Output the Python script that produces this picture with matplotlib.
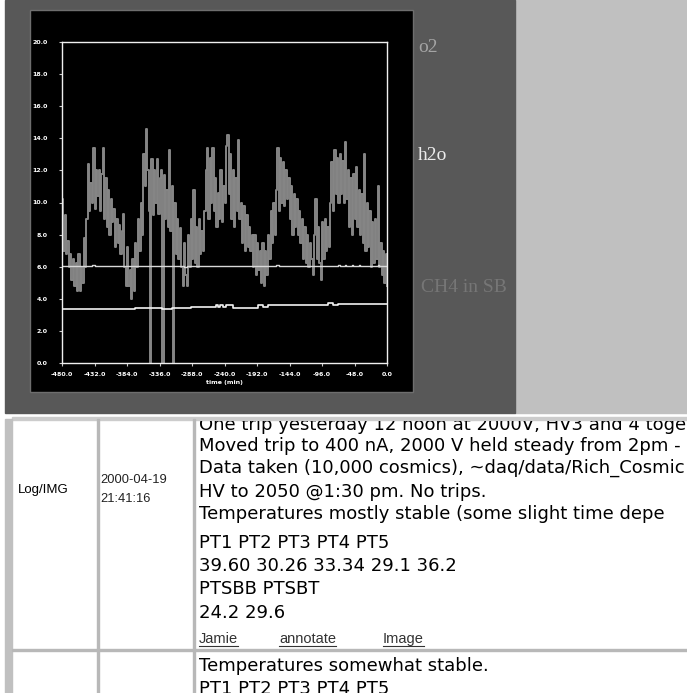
import matplotlib.pyplot as plt
from matplotlib.patches import Rectangle

# h2o reading, sampled every 2 min over the last 8 hours
time_min = list(range(-480, 1, 2))
h2o = [
    10.2, 7.0, 9.2, 6.8, 7.6, 6.0, 6.8, 5.2, 6.5, 4.8,      # -480
    6.2, 4.5, 6.8, 4.5, 6.0, 5.0, 7.8, 6.0, 9.0, 12.4,      # -460
    9.5, 11.2, 10.0, 13.4, 9.6, 12.0, 10.4, 12.0, 9.5, 11.8,  # -440
    13.4, 9.0, 11.5, 8.5, 10.8, 8.0, 10.2, 8.8, 9.6, 7.2,   # -420
    9.0, 7.5, 8.6, 6.8, 8.2, 9.3, 6.0, 4.8, 7.2, 4.8,       # -400
    5.8, 4.0, 6.5, 4.5, 7.5, 6.0, 9.0, 7.0, 10.0, 8.0,      # -380
    13.0, 11.0, 14.6, 12.0, 9.5, 0.0, 12.7, 9.2, 12.0, 10.0,  # -360
    12.7, 9.3, 11.5, 12.0, 0.0, 11.7, 9.0, 10.8, 8.5, 13.3,  # -340
    8.2, 11.0, 0.0, 10.0, 6.8, 9.0, 6.5, 8.4, 6.0, 4.8,     # -320
    7.5, 5.5, 4.8, 8.0, 6.0, 9.0, 6.5, 10.8, 6.2, 8.5,      # -300
    6.0, 9.0, 6.8, 8.2, 7.0, 9.5, 12.0, 13.4, 9.0, 12.8,    # -280
    10.0, 13.4, 9.5, 11.5, 8.5, 10.6, 9.0, 12.0, 8.8, 11.0,  # -260
    10.0, 13.5, 14.2, 10.5, 13.0, 9.0, 12.0, 8.5, 11.5, 9.5,  # -240
    13.9, 9.0, 10.0, 7.5, 9.8, 7.0, 9.2, 7.2, 8.5, 7.0,     # -220
    8.0, 6.0, 8.0, 5.5, 7.5, 5.8, 7.0, 5.0, 7.5, 4.8,       # -200
    7.0, 5.5, 8.0, 6.5, 9.5, 7.5, 10.0, 8.0, 10.8, 13.4,    # -180
    9.5, 12.8, 10.0, 12.5, 9.8, 12.0, 10.2, 11.5, 9.0, 11.0,  # -160
    8.0, 10.5, 8.5, 10.2, 8.0, 9.5, 7.5, 9.0, 6.5, 8.5,     # -140
    6.2, 8.0, 6.0, 7.5, 6.5, 5.5, 8.0, 10.2, 6.5, 8.5,      # -120
    6.2, 5.2, 8.8, 6.5, 9.0, 7.0, 8.5, 7.2, 10.0, 12.5,     # -100
    9.5, 13.3, 10.5, 12.8, 10.0, 13.0, 10.5, 12.6, 10.0, 13.8,  # -80
    10.2, 12.0, 8.5, 11.5, 8.0, 11.8, 9.0, 12.2, 8.5, 10.8,  # -60
    8.0, 10.5, 7.5, 13.0, 7.0, 10.0, 7.2, 9.5, 6.0, 8.8,    # -40
    6.2, 9.0, 6.5, 11.0, 6.0, 7.5, 5.5, 7.0, 5.0, 6.8,      # -20
    4.8,                                                    # 0
]

o2_time = [-480, -436, -432, -300, -296, -164, -160, -72, -70, -62, -60, -52, -50, -42, -40, -14, -12, 0]
o2 = [6.02, 6.1, 6.02, 5.98, 6.02, 6.12, 6.02, 6.1, 6.02, 6.1, 6.02, 6.1, 6.02, 6.1, 6.02, 6.12, 6.02, 6.02]

ch4_time = [-480, -372, -332, -318, -290, -253, -249, -246, -242, -238, -227, -190, -183, -176, -87, -80, -72, 0]
ch4 = [3.36, 3.44, 3.37, 3.45, 3.47, 3.6, 3.52, 3.62, 3.52, 3.6, 3.42, 3.64, 3.5, 3.63, 3.72, 3.64, 3.7, 3.7]

xticks = [-480, -432, -384, -336, -288, -240, -192, -144, -96, -48, 0]
yticks = [0, 2, 4, 6, 8, 10, 12, 14, 16, 18, 20]
series_names = ['o2', 'h2o', 'CH4 in SB']
series_label_colors = ['#a4a4a4', '#ececec', '#767676']

log_lines = [
    'One trip yesterday 12 noon at 2000V, HV3 and 4 toge',
    'Moved trip to 400 nA, 2000 V held steady from 2pm -',
    'Data taken (10,000 cosmics), ~daq/data/Rich_Cosmic',
    'HV to 2050 @1:30 pm. No trips.',
    'Temperatures mostly stable (some slight time depe',
]
temp_lines = ['PT1 PT2 PT3 PT4 PT5', '39.60 30.26 33.34 29.1 36.2', 'PTSBB PTSBT', '24.2 29.6']
links = ['Jamie', 'annotate', 'Image']
next_lines = ['Temperatures somewhat stable.', 'PT1 PT2 PT3 PT4 PT5']
entry_type = 'Log/IMG'
entry_date = ['2000-04-19', '21:41:16']

W, H = 687, 693
fig = plt.figure(figsize=(W / 100, H / 100), dpi=100, facecolor='white')

# page background, in pixel coordinates
bg = fig.add_axes([0, 0, 1, 1])
bg.set_xlim(0, W)
bg.set_ylim(H, 0)
bg.axis('off')
bg.add_patch(Rectangle((515, 0), W - 515, 413, color='#c0c0c0'))
bg.add_patch(Rectangle((5, 0), 510, 413, color='#585858'))
bg.add_patch(Rectangle((30, 10), 383, 382, facecolor='black', edgecolor='#6e6e6e', lw=1))
for name, col, x, y in zip(series_names, series_label_colors, [418, 418, 421], [47, 155, 287]):
    bg.text(x, y, name, color=col, fontsize=14, family='Liberation Serif', va='center', ha='left')

# chart
ax = fig.add_axes([62 / W, 1 - 363 / H, 325 / W, 321 / H])
ax.set_facecolor('black')
ax.plot(time_min, h2o, drawstyle='steps-post', color='#858585', lw=1.4)
ax.plot(o2_time, o2, drawstyle='steps-post', color='#d8d8d8', lw=1.0)
ax.plot(ch4_time, ch4, drawstyle='steps-post', color='#f2f2f2', lw=1.2)
ax.set_xlim(-480, 0)
ax.set_ylim(0, 20)
ax.set_xticks(xticks)
ax.set_xticklabels(['%.1f' % v for v in xticks])
ax.set_yticks(yticks)
ax.set_yticklabels(['%.1f' % v for v in yticks])
for s in ax.spines.values():
    s.set_color('#f0f0f0')
    s.set_linewidth(1.0)
ax.tick_params(axis='both', colors='#c8c8c8', labelcolor='white', length=2, width=0.8, labelsize=4.5)
ax.tick_params(axis='x', pad=4.5)
ax.tick_params(axis='y', pad=8.5)
for lab in ax.get_xticklabels() + ax.get_yticklabels():
    lab.set_fontweight('bold')
ax.set_xlabel('time (min)', color='white', fontsize=4.5, fontweight='bold', labelpad=2)

# log table below the chart
top = 421
tab = fig.add_axes([0, 0, 1, (H - top) / H])
tab.set_xlim(0, W)
tab.set_ylim(H, top)
tab.axis('off')
bg.add_patch(Rectangle((12, 417), W - 12, 2.5, color='#cccccc'))
bg.add_patch(Rectangle((5, 419), 7, H - 419, color='#c0c0c0'))
bg.add_patch(Rectangle((97, 419), 2, H - 419, color='#b8b8b8'))
bg.add_patch(Rectangle((193, 419), 2, H - 419, color='#b8b8b8'))
bg.add_patch(Rectangle((12, 649), W - 12, 2, color='#b8b8b8'))

tab.text(18, 493, entry_type, fontsize=9.5, family='Liberation Sans', va='baseline')
for line, y in zip(entry_date, [483, 502]):
    tab.text(100, y, line, fontsize=9.3, family='Liberation Sans', va='baseline', color='#222222')

text_kw = dict(fontsize=13.0, family='DejaVu Sans', va='baseline', ha='left', clip_on=True)
for line, y in zip(log_lines, [430, 451, 473, 497, 519]):
    tab.text(199, y, line, **text_kw)
for line, y in zip(temp_lines, [548, 571, 594, 618]):
    tab.text(199, y, line, **text_kw)
for line, y in zip(next_lines, [671, 694]):
    tab.text(199, y, line, **text_kw)

link_objs = []
for name, x in zip(links, [199, 279, 383]):
    link_objs.append(tab.text(x, 643, name, fontsize=10.5, family='Liberation Sans',
                              va='baseline', ha='left', color='#333333'))
fig.canvas.draw()
inv = tab.transData.inverted()
for t in link_objs:
    bb = t.get_window_extent()
    x0, _ = inv.transform((bb.x0, bb.y0))
    x1, _ = inv.transform((bb.x1, bb.y0))
    tab.plot([x0, x1], [645.5, 645.5], color='#333333', lw=0.8)

fig.savefig('out.png', dpi=100, facecolor='white')
